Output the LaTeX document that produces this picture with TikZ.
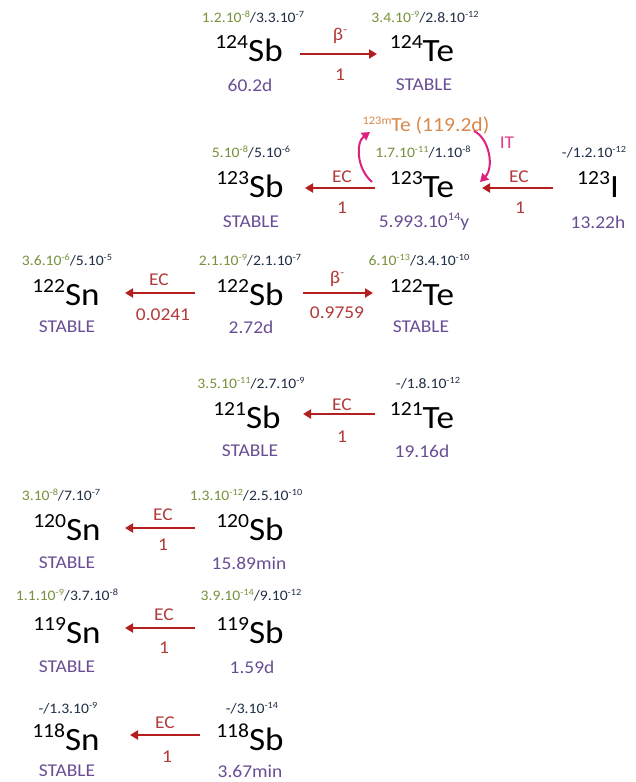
\documentclass[tikz,border=0pt]{standalone}
\usepackage{fontspec}
\setmainfont{Carlito}[FakeStretch=1.08]
\usetikzlibrary{arrows.meta}
\definecolor{grn}{HTML}{76923C}
\definecolor{dkb}{HTML}{1F2F45}
\definecolor{hlc}{HTML}{6A4E94}
\definecolor{arc}{HTML}{B41E1E}
\definecolor{lbc}{HTML}{B33A3A}
\definecolor{pnk}{HTML}{E0207E}
\definecolor{itc}{HTML}{E2408A}
\definecolor{orc}{HTML}{D8894C}
\newcommand\nuc[2]{{\fontsize{20}{20}\selectfont\raisebox{12.5pt}{#1}}{\fontsize{32.5}{32.5}\selectfont #2}}
\newcommand\ab[2]{\textcolor{grn}{#1}\textcolor{dkb}{#2}}
\newcommand\sups[1]{\raisebox{5.5pt}{\fontsize{9.5}{9.5}\selectfont #1}}
\newcommand\supl[1]{\raisebox{7pt}{\fontsize{11.5}{11.5}\selectfont #1}}
\tikzset{
  sym/.style={anchor=base, inner sep=0pt, text=black},
  abun/.style={inner sep=0pt, font=\fontsize{14.5}{14.5}\selectfont},
  hlife/.style={inner sep=0pt, text=hlc, font=\fontsize{18}{18}\selectfont},
  lbl/.style={inner sep=0pt, text=lbc, font=\fontsize{18}{18}\selectfont},
  meta/.style={anchor=base, inner sep=0pt, text=orc, font=\fontsize{20}{20}\selectfont},
  itlbl/.style={inner sep=0pt, text=itc, font=\fontsize{18}{18}\selectfont},
  decay/.style={draw=arc, line width=2.2pt, -{Triangle[length=8pt,width=9pt]}},
  itarr/.style={draw=pnk, line width=2pt, -{Triangle[length=8pt,width=9pt]}},
}
\begin{document}
\begin{tikzpicture}[x=1pt,y=-1pt]
\fill[white] (0,0) rectangle (636,782);
\useasboundingbox (0,0) rectangle (636,782);
% ---------- row 124
\node[abun] (a124sb) at (253,17) {\ab{1.2.10\sups{-8}}{/3.3.10\sups{-7}}};
\node[abun] (a124te) at (425,17) {\ab{3.4.10\sups{-9}}{/2.8.10\sups{-12}}};
\node[sym] (sb124) at (249,61) {\nuc{124}{Sb}};
\node[sym] (te124) at (422,61) {\nuc{124}{Te}};
\node[hlife] (h124sb) at (250,85) {60.2d};
\node[hlife] (h124te) at (424,85) {STABLE};
\draw[decay] ([xshift=51pt,yshift=7pt]sb124.base) -- ([xshift=-45pt,yshift=7pt]te124.base);
\node[lbl] (l124a) at (340,36) {β\supl{-}};
\node[lbl] (l124b) at (340,75) {1};
% ---------- row 123
\node[meta] (te123m) at (426,131) {\supl{123m}Te (119.2d)};
\node[abun] (a123sb) at (251,152) {\ab{5.10\sups{-8}}{/5.10\sups{-6}}};
\node[abun] (a123te) at (423,152) {\ab{1.7.10\sups{-11}}{/1.10\sups{-8}}};
\node[abun] (a123i) at (594,152) {\ab{}{-/1.2.10\sups{-12}}};
\node[sym] (sb123) at (250,197) {\nuc{123}{Sb}};
\node[sym] (te123) at (422,197) {\nuc{123}{Te}};
\node[sym] (i123) at (598,197) {\nuc{123}{I}};
\node[hlife] (h123sb) at (251,222) {STABLE};
\node[hlife] (h123te) at (424,222) {5.993.10\supl{14}y};
\node[hlife] (h123i) at (598,222) {13.22h};
\draw[decay] ([xshift=-47pt,yshift=9pt]te123.base) -- ([xshift=55pt,yshift=9pt]sb123.base);
\draw[decay] ([xshift=-45pt,yshift=9pt]i123.base) -- ([xshift=60pt,yshift=9pt]te123.base);
\node[lbl] (l123a) at (342,177) {EC};
\node[lbl] (l123b) at (342,208) {1};
\node[lbl] (l123c) at (519,177) {EC};
\node[lbl] (l123d) at (520,208) {1};
\draw[itarr] ([xshift=-50pt,yshift=15pt]te123.base) .. controls +(-16,-14) and +(-14,10) .. ([xshift=-56pt,yshift=-1pt]te123m.base);
\draw[itarr] ([xshift=48pt]te123m.base) .. controls +(16,8) and +(14,-14) .. ([xshift=58pt,yshift=15pt]te123.base);
\node[itlbl] (lit) at (507,143) {IT};
% ---------- row 122
\node[abun] (a122sn) at (67,260) {\ab{3.6.10\sups{-6}}{/5.10\sups{-5}}};
\node[abun] (a122sb) at (250,260) {\ab{2.1.10\sups{-9}}{/2.1.10\sups{-7}}};
\node[abun] (a122te) at (419,260) {\ab{6.10\sups{-13}}{/3.4.10\sups{-10}}};
\node[sym] (sn122) at (66,305) {\nuc{122}{Sn}};
\node[sym] (sb122) at (250,305) {\nuc{122}{Sb}};
\node[sym] (te122) at (422,305) {\nuc{122}{Te}};
\node[hlife] (h122sn) at (67,327) {STABLE};
\node[hlife] (h122sb) at (251,327) {2.72d};
\node[hlife] (h122te) at (421,327) {STABLE};
\draw[decay] ([xshift=-55pt,yshift=12pt]sb122.base) -- ([xshift=59pt,yshift=12pt]sn122.base);
\draw[decay] ([xshift=53pt,yshift=12pt]sb122.base) -- ([xshift=-49pt,yshift=12pt]te122.base);
\node[lbl] (l122a) at (159,280) {EC};
\node[lbl] (l122b) at (163,315) {0.0241};
\node[lbl] (l122c) at (337,279) {β\supl{-}};
\node[lbl] (l122d) at (337,313) {0.9759};
% ---------- row 121
\node[abun] (a121sb) at (251,383) {\ab{3.5.10\sups{-11}}{/2.7.10\sups{-9}}};
\node[abun] (a121te) at (428,383) {\ab{}{-/1.8.10\sups{-12}}};
\node[sym] (sb121) at (247,428) {\nuc{121}{Sb}};
\node[sym] (te121) at (422,428) {\nuc{121}{Te}};
\node[hlife] (h121sb) at (250,451) {STABLE};
\node[hlife] (h121te) at (422,451) {19.16d};
\draw[decay] ([xshift=-47pt,yshift=14pt]te121.base) -- ([xshift=56pt,yshift=14pt]sb121.base);
\node[lbl] (l121a) at (342,405) {EC};
\node[lbl] (l121b) at (342,437) {1};
% ---------- row 120
\node[abun] (a120sn) at (61,495) {\ab{3.10\sups{-8}}{/7.10\sups{-7}}};
\node[abun] (a120sb) at (246,495) {\ab{1.3.10\sups{-12}}{/2.5.10\sups{-10}}};
\node[sym] (sn120) at (67,540) {\nuc{120}{Sn}};
\node[sym] (sb120) at (250,540) {\nuc{120}{Sb}};
\node[hlife] (h120sn) at (67,563) {STABLE};
\node[hlife] (h120sb) at (249,563) {15.89min};
\draw[decay] ([xshift=-55pt,yshift=12pt]sb120.base) -- ([xshift=58pt,yshift=12pt]sn120.base);
\node[lbl] (l120a) at (163,515) {EC};
\node[lbl] (l120b) at (163,545) {1};
% ---------- row 119
\node[abun] (a119sn) at (67,595) {\ab{1.1.10\sups{-9}}{/3.7.10\sups{-8}}};
\node[abun] (a119sb) at (251,595) {\ab{3.9.10\sups{-14}}{/9.10\sups{-12}}};
\node[sym] (sn119) at (67,643) {\nuc{119}{Sn}};
\node[sym] (sb119) at (250,643) {\nuc{119}{Sb}};
\node[hlife] (h119sn) at (67,667) {STABLE};
\node[hlife] (h119sb) at (252,667) {1.59d};
\draw[decay] ([xshift=-55pt,yshift=15pt]sb119.base) -- ([xshift=58pt,yshift=15pt]sn119.base);
\node[lbl] (l119a) at (164,615) {EC};
\node[lbl] (l119b) at (164,648) {1};
% ---------- row 118
\node[abun] (a118sn) at (68,708) {\ab{}{-/1.3.10\sups{-9}}};
\node[abun] (a118sb) at (252,708) {\ab{}{-/3.10\sups{-14}}};
\node[sym] (sn118) at (66,750) {\nuc{118}{Sn}};
\node[sym] (sb118) at (250,750) {\nuc{118}{Sb}};
\node[hlife] (h118sn) at (67,771) {STABLE};
\node[hlife] (h118sb) at (250,771) {3.67min};
\draw[decay] ([xshift=-50pt,yshift=15pt]sb118.base) -- ([xshift=64pt,yshift=15pt]sn118.base);
\node[lbl] (l118a) at (165,723) {EC};
\node[lbl] (l118b) at (167,757) {1};
\end{tikzpicture}
\end{document}
